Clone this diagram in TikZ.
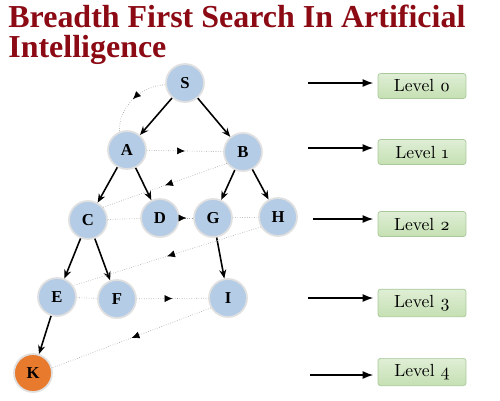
\documentclass[tikz,border=0pt]{standalone}
\usepackage{fontspec}
\usetikzlibrary{arrows.meta,decorations.markings}

\newfontfamily\titlefont{Liberation Serif}
\newfontfamily\levelfont[Numbers=OldStyle]{Latin Modern Roman}

\definecolor{titlered}{HTML}{8B0A14}
\definecolor{nodeblue}{HTML}{B4CCE6}
\definecolor{goalorange}{HTML}{E87A2E}
\definecolor{levelgreen}{HTML}{C5E0B3}
\definecolor{levelrim}{HTML}{A9C99A}

\tikzset{
  headline/.style={anchor=base west, inner sep=0pt, text=titlered,
    font=\titlefont\bfseries\fontsize{18.2}{20}\selectfont},
  state/.style={circle, fill=nodeblue, draw=black!12, line width=1pt,
    minimum size=0.76cm, inner sep=0pt,
    font=\titlefont\bfseries\fontsize{9.5}{10}\selectfont},
  goal/.style={state, fill=goalorange},
  tree/.style={-{Stealth[length=5pt,width=4pt]}, line width=0.9pt},
  visit/.style={gray!75, line width=0.35pt, densely dotted},
  order/.style={visit, postaction={decorate},
    decoration={markings, mark=at position 0.5 with {\arrow[black]{Latex[length=4.5pt,width=4pt]}}}},
  levelbox/.style={rectangle, rounded corners=1.5pt, top color=levelgreen!55,
    bottom color=levelgreen, draw=levelrim, minimum width=1.76cm,
    minimum height=0.5cm, font=\levelfont\fontsize{10}{12}\selectfont},
  levelarrow/.style={-{Latex[length=6pt,width=4.5pt]}, line width=0.8pt, shorten >=2.5pt}
}

\begin{document}
\begin{tikzpicture}[x=0.02cm, y=-0.02cm]
  \useasboundingbox (0,0) rectangle (500,400);

  % title in two lines
  \node[headline] (title1) at (8,27) {Breadth First Search In Artificial};
  \node[headline] (title2) at (8,57) {Intelligence};

  % the search tree
  \node[state] (S) at (185,83) {S};
  \node[state] (A) at (127,150) {A};
  \node[state] (B) at (243,152) {B};
  \node[state] (C) at (88,220) {C};
  \node[state] (D) at (160,218) {D};
  \node[state] (G) at (213,218) {G};
  \node[state] (H) at (278,217) {H};
  \node[state] (E) at (57,297) {E};
  \node[state] (F) at (117,299) {F};
  \node[state] (I) at (228,298) {I};
  \node[goal]  (K) at (33,373) {K};

  % tree edges
  \foreach \a/\b in {S/A,S/B,A/C,A/D,B/G,B/H,C/E,C/F,G/I,E/K}
    \draw[tree] (\a) -- (\b);

  % order of visiting, level by level
  \draw[order] (S.185) .. controls (140,86) and (118,108) .. (A.112);
  \draw[order] (A) -- (B);
  \draw[order] (B.215) -- (C.40);
  \draw[visit] (C) -- (D);
  \draw[order] (D) -- (G);
  \draw[visit] (G) -- (H);
  \draw[order] (H.210) -- (E.35);
  \draw[visit] (E) -- (F);
  \draw[order] (F) -- (I);
  \draw[order] (I.210) -- (K.15);

  % levels on the right
  \foreach \n/\x/\y/\ly in {0/308/83/86, 1/308/148/152, 2/313/219/224, 3/308/298/303, 4/310/375/372} {
    \node[levelbox] (L\n) at (422,\ly) {Level \n};
    \coordinate (from\n) at (\x,\y);
    \draw[levelarrow] (from\n) -- (from\n -| L\n.west);
  }
\end{tikzpicture}
\end{document}
